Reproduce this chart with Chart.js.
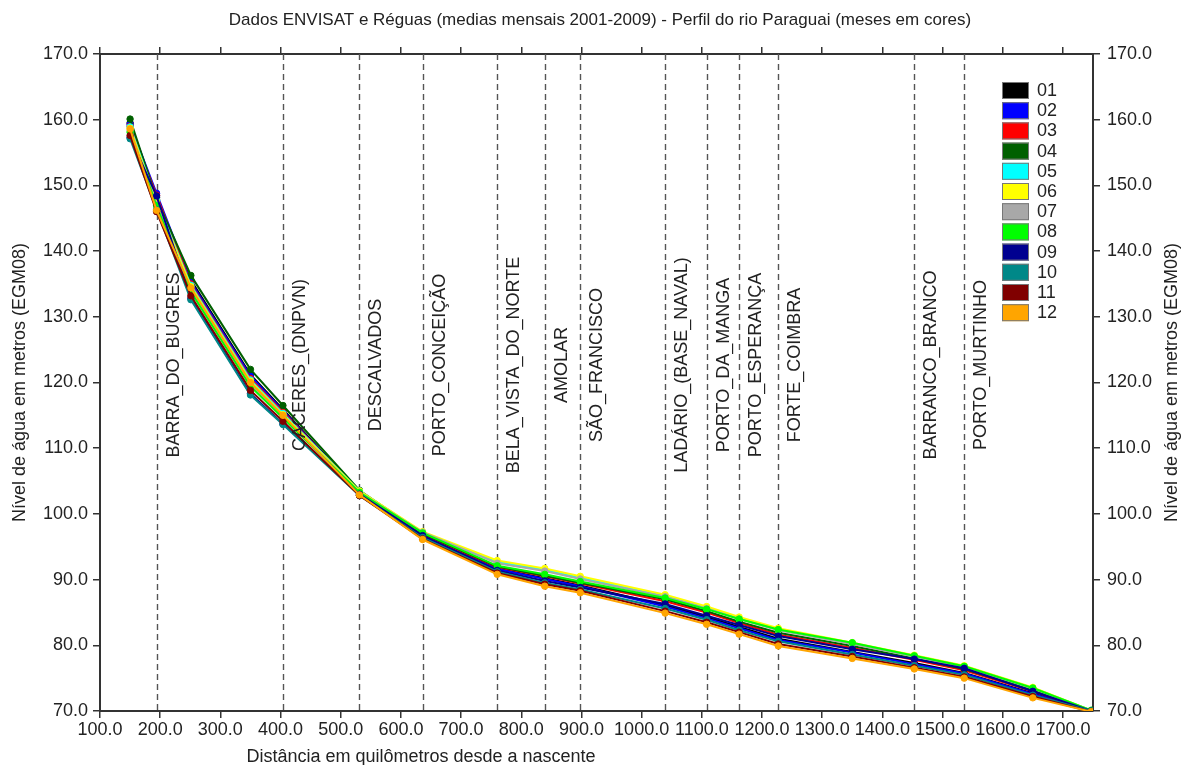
<!DOCTYPE html>
<html lang="pt">
<head>
<meta charset="UTF-8">
<title>Perfil do rio Paraguai</title>
<script src="https://cdn.jsdelivr.net/npm/chart.js"></script>
<style>
  body { margin:0; background:#fff; }
  canvas { display:block; }
</style>
</head>
<body>
<canvas id="perfil" width="1185" height="765"></canvas>
<script>
// distance from the source (km) of every profile point
const distKm = [150, 194, 251, 350, 404, 531, 636, 760, 839, 898, 1039, 1108, 1162, 1227, 1350, 1453, 1536, 1650, 1747];

// monthly mean water level (m, EGM08) at each point
const m01 = [159.5, 148.2, 135.6, 121.2, 115.9, 103.3, 96.6, 91.7, 90.2, 89.1, 86.1, 84.3, 82.8, 81.0, 79.0, 77.3, 75.8, 72.7, 70.0];
const m02 = [159.3, 148.8, 135.3, 121.0, 115.7, 103.2, 96.5, 91.6, 90.1, 89.0, 85.9, 84.1, 82.6, 80.8, 78.9, 77.1, 75.7, 72.6, 70.0];
const m03 = [159.0, 148.5, 135.0, 120.6, 115.5, 103.3, 96.9, 91.9, 90.5, 89.4, 86.7, 85.0, 83.4, 81.6, 79.6, 77.8, 76.2, 73.0, 70.0];
const m04 = [160.1, 147.9, 136.3, 122.0, 116.5, 103.6, 97.0, 92.0, 90.6, 89.5, 87.0, 85.2, 83.6, 81.9, 79.9, 78.0, 76.4, 73.2, 70.0];
const m05 = [158.9, 147.7, 134.8, 120.4, 115.3, 103.5, 97.2, 92.7, 91.5, 90.3, 87.5, 85.7, 84.1, 82.4, 80.3, 78.4, 76.8, 73.5, 70.1];
const m06 = [158.7, 147.5, 134.6, 120.2, 115.1, 103.5, 97.3, 92.9, 91.7, 90.5, 87.7, 85.9, 84.3, 82.6, 80.4, 78.5, 76.9, 73.6, 70.1];
const m07 = [158.3, 147.1, 134.1, 119.7, 114.8, 103.3, 97.2, 92.5, 91.3, 90.1, 87.4, 85.6, 84.0, 82.3, 80.2, 78.3, 76.7, 73.4, 70.1];
const m08 = [158.1, 146.9, 133.8, 119.4, 114.6, 103.3, 97.1, 92.1, 90.8, 89.7, 87.2, 85.5, 84.0, 82.4, 80.4, 78.4, 76.8, 73.5, 70.1];
const m09 = [157.3, 148.4, 132.8, 118.3, 113.7, 103.0, 96.7, 91.4, 89.8, 88.8, 86.3, 84.5, 83.1, 81.4, 79.4, 77.9, 76.5, 73.0, 70.0];
const m10 = [157.1, 146.3, 132.6, 118.1, 113.6, 102.8, 96.4, 91.2, 89.5, 88.5, 85.6, 83.9, 82.3, 80.6, 78.6, 76.9, 75.5, 72.4, 70.0];
const m11 = [157.6, 146.0, 133.2, 118.8, 114.1, 102.8, 96.2, 91.0, 89.3, 88.3, 85.2, 83.5, 82.0, 80.2, 78.3, 76.6, 75.2, 72.2, 69.9];
const m12 = [158.6, 146.2, 134.4, 120.0, 115.0, 102.9, 96.1, 90.8, 89.0, 88.0, 84.9, 83.2, 81.7, 79.9, 78.0, 76.4, 75.0, 72.0, 69.9];

const months = ["01", "02", "03", "04", "05", "06", "07", "08", "09", "10", "11", "12"];
const monthSeries = [m01, m02, m03, m04, m05, m06, m07, m08, m09, m10, m11, m12];
const monthColors = ["#000000", "#0000ff", "#ff0000", "#006000", "#00ffff", "#ffff00",
                     "#a8a8a8", "#00ff00", "#000090", "#008888", "#800000", "#ffa500"];

// gauge stations (vertical dashed lines)
const stationKm = [194, 404, 531, 636, 760, 839, 898, 1039, 1108, 1162, 1227, 1453, 1536];
const stationNames = ["BARRA_DO_BUGRES", "CACERES_(DNPVN)", "DESCALVADOS", "PORTO_CONCEIÇÃO",
  "BELA_VISTA_DO_NORTE", "AMOLAR", "SÃO_FRANCISCO", "LADÁRIO_(BASE_NAVAL)", "PORTO_DA_MANGA",
  "PORTO_ESPERANÇA", "FORTE_COIMBRA", "BARRANCO_BRANCO", "PORTO_MURTINHO"];

const xTicks = [100, 200, 300, 400, 500, 600, 700, 800, 900, 1000, 1100, 1200, 1300, 1400, 1500, 1600, 1700];
const yTicks = [70, 80, 90, 100, 110, 120, 130, 140, 150, 160, 170];

const FONT = "'Liberation Sans', Arial, sans-serif";
Chart.defaults.font.family = FONT;
Chart.defaults.color = '#222';

const datasets = monthSeries.map((vals, i) => ({
  label: months[i],
  data: distKm.map((d, j) => ({ x: d, y: vals[j] })),
  borderColor: monthColors[i],
  backgroundColor: monthColors[i],
  borderWidth: 2,
  pointRadius: 3.2,
  pointBorderWidth: 1,
  pointBorderColor: monthColors[i],
  order: 12 - i
}));

const overlay = {
  id: 'overlay',
  beforeDatasetsDraw(chart) {
    const { ctx, chartArea: a, scales: { x } } = chart;
    ctx.save();
    ctx.strokeStyle = '#555';
    ctx.lineWidth = 1.4;
    ctx.setLineDash([6, 4]);
    stationKm.forEach(k => {
      const px = Math.round(x.getPixelForValue(k)) + 0.5;
      ctx.beginPath();
      ctx.moveTo(px, a.top);
      ctx.lineTo(px, a.bottom);
      ctx.stroke();
    });
    ctx.restore();
  },
  afterDatasetsDraw(chart) {
    const { ctx, scales: { x } } = chart;
    ctx.save();
    ctx.fillStyle = '#222';
    ctx.font = '18px ' + FONT;
    ctx.textAlign = 'center';
    ctx.textBaseline = 'middle';
    stationKm.forEach((k, i) => {
      ctx.save();
      ctx.translate(x.getPixelForValue(k) + 17, 365);
      ctx.rotate(-Math.PI / 2);
      ctx.fillText(stationNames[i], 0, 0);
      ctx.restore();
    });

    // legend
    ctx.textAlign = 'left';
    months.forEach((m, i) => {
      const top = 82 + i * 20.2;
      ctx.fillStyle = monthColors[i];
      ctx.fillRect(1002, top, 27, 17);
      ctx.strokeStyle = '#777';
      ctx.lineWidth = 1;
      ctx.strokeRect(1002.5, top + 0.5, 26, 16);
      ctx.fillStyle = '#222';
      ctx.fillText(m, 1037, top + 9);
    });
    ctx.restore();
  },
  afterDraw(chart) {
    const { ctx, chartArea: a } = chart;
    ctx.save();
    ctx.fillStyle = '#222';
    ctx.textAlign = 'center';
    ctx.textBaseline = 'middle';
    ctx.font = '17px ' + FONT;
    ctx.fillText('Dados ENVISAT e Réguas (medias mensais 2001-2009) - Perfil do rio Paraguai (meses em cores)', 600, 20);
    ctx.font = '18px ' + FONT;
    ctx.fillText('Distância em quilômetros desde a nascente', 421, 757);
    const midY = (a.top + a.bottom) / 2;
    [20, 1172].forEach(px => {
      ctx.save();
      ctx.translate(px, midY);
      ctx.rotate(-Math.PI / 2);
      ctx.fillText('Nível de água em metros (EGM08)', 0, 0);
      ctx.restore();
    });
    ctx.restore();
  }
};

function axisX(position, showLabels) {
  return {
    type: 'linear',
    position: position,
    min: 100,
    max: 1750,
    afterBuildTicks: s => { s.ticks = xTicks.map(v => ({ value: v })); },
    afterFit: s => { s.height = 54; },
    ticks: {
      display: showLabels,
      autoSkip: false,
      maxRotation: 0,
      padding: 1,
      font: { size: 18 },
      callback: v => v.toFixed(1)
    },
    grid: { drawOnChartArea: false, drawTicks: true, tickLength: 7, color: '#333', lineWidth: 1.5 },
    border: { display: true, color: '#333', width: 2 }
  };
}

function axisY(position, width, pad) {
  return {
    type: 'linear',
    position: position,
    min: 70,
    max: 170,
    afterBuildTicks: s => { s.ticks = yTicks.map(v => ({ value: v })); },
    afterFit: s => { s.width = width; },
    ticks: {
      padding: pad,
      font: { size: 18 },
      callback: v => v.toFixed(1)
    },
    grid: { drawOnChartArea: false, drawTicks: true, tickLength: 7, color: '#333', lineWidth: 1.5 },
    border: { display: true, color: '#333', width: 2 }
  };
}

new Chart(document.getElementById('perfil'), {
  type: 'line',
  data: { datasets: datasets },
  options: {
    responsive: false,
    animation: false,
    layout: { padding: 0 },
    plugins: { legend: { display: false }, tooltip: { enabled: false } },
    scales: {
      x: axisX('bottom', true),
      x2: axisX('top', false),
      y: axisY('left', 100, 5),
      y2: axisY('right', 92, 7)
    }
  },
  plugins: [overlay]
});
</script>
</body>
</html>
